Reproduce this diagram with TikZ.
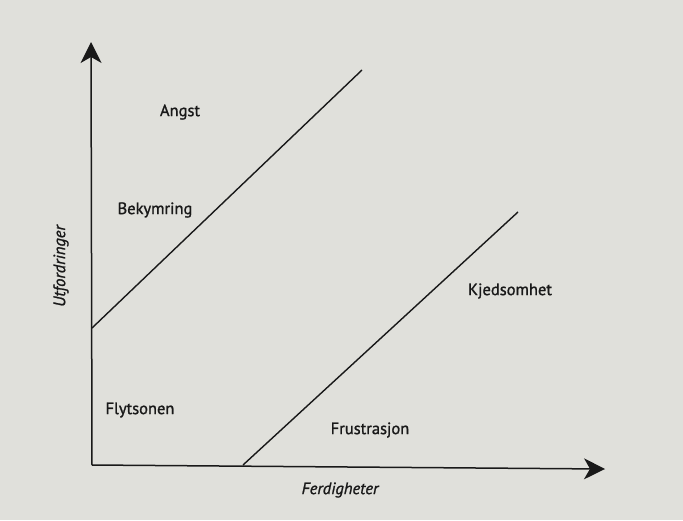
\documentclass[tikz,border=0pt]{standalone}
\usepackage{fontspec}
\setmainfont{PT Sans}
\newfontfamily\lblfont{PT Sans}[FakeBold=1.2]
\usetikzlibrary{arrows.meta}
\definecolor{paper}{RGB}{224,224,219}
\definecolor{ink}{RGB}{25,25,25}
\begin{document}
\begin{tikzpicture}[x=1pt,y=-1pt,
  axis/.style={draw=ink,line width=1.5pt,-{Stealth[length=21pt,width=21pt,inset=6pt]}},
  zone/.style={draw=ink,line width=1.4pt},
  lbl/.style={font=\lblfont\fontsize{16.5}{19}\selectfont,text=ink,inner sep=0pt},
  axlbl/.style={font=\lblfont\itshape\fontsize{16.5}{19}\selectfont,text=ink,inner sep=0pt}]
\fill[paper] (0,0) rectangle (683,520);
\useasboundingbox (0,0) rectangle (683,520);
\coordinate (O) at (92,465);
\coordinate (Ytip) at (91,42);
\coordinate (Xtip) at (605,469);
\coordinate (A1) at (92,328);
\coordinate (A2) at (362,70);
\coordinate (B1) at (243,465);
\coordinate (B2) at (518,212);
\draw[axis] (O) -- (Ytip);
\draw[axis] (O) -- (Xtip);
\draw[zone] (A1) -- (A2);
\draw[zone] (B1) -- (B2);
\node[lbl] (angst) at (180,112) {Angst};
\node[lbl] (bek) at (155,210) {Bekymring};
\node[lbl] (kjed) at (510,291) {Kjedsomhet};
\node[lbl] (flyt) at (140,410) {Flytsonen};
\node[lbl] (frus) at (370,430) {Frustrasjon};
\node[axlbl,rotate=90] (utf) at (61,266) {Utfordringer};
\node[axlbl] (ferd) at (340,490) {Ferdigheter};
\end{tikzpicture}
\end{document}
